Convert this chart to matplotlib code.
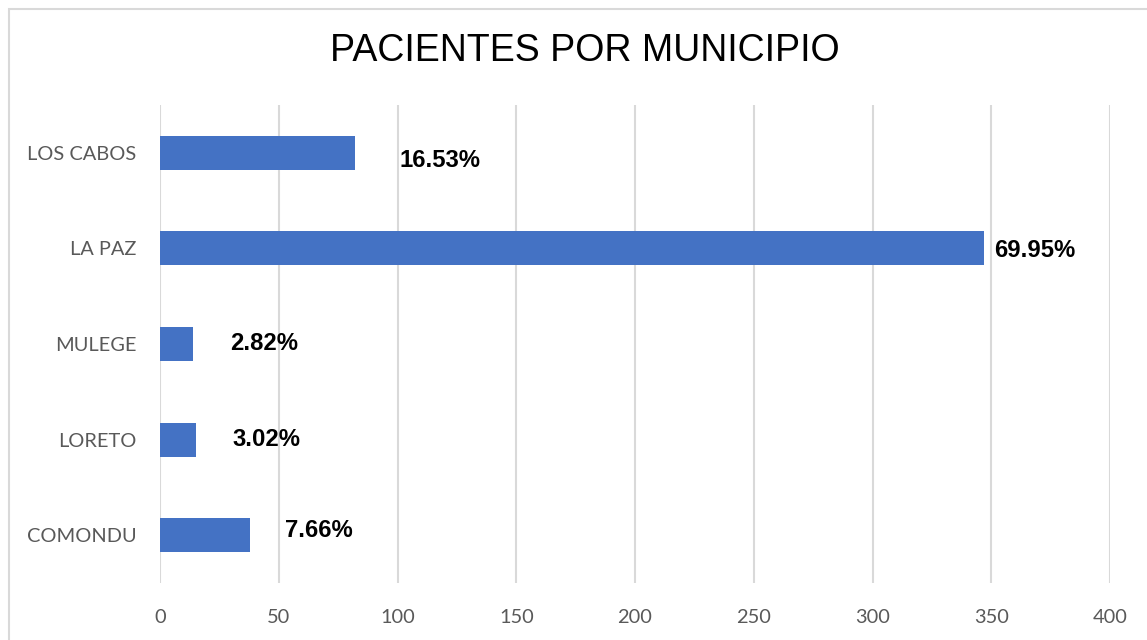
import matplotlib.pyplot as plt
import matplotlib.patches as mpatches

# datos
municipios = ['LOS CABOS', 'LA PAZ', 'MULEGE', 'LORETO', 'COMONDU']
pacientes = [82, 347, 14, 15, 38]
porcentajes = ['16.53%', '69.95%', '2.82%', '3.02%', '7.66%']
xticks = [0, 50, 100, 150, 200, 250, 300, 350, 400]

# desplazamiento de etiquetas (px), como quedaron en el original
dx = [45, 10, 37, 37, 35]
dy = [-8, -2, 0, 0, 5]

fig = plt.figure(figsize=(11.47, 6.4), dpi=100)
ax = fig.add_axes([160 / 1147, 1 - 583 / 640, 950 / 1147, 478 / 640])

# marco gris alrededor
fig.patches.append(mpatches.Rectangle((9 / 1147, -0.1), 1.2, (631 / 640) + 0.1,
                                      transform=fig.transFigure, fill=False,
                                      edgecolor='#d9d9d9', linewidth=1.5))

y = list(range(len(municipios)))
ax.barh(y, pacientes, height=0.355, color='#4472C4', zorder=3)

for i in range(len(municipios)):
    ax.annotate(porcentajes[i], (pacientes[i], y[i]), xytext=(dx[i] * 0.72, dy[i] * 0.72),
                textcoords='offset points', ha='left', va='center',
                fontsize=17.2, fontweight='bold', family='Liberation Sans', color='black')

ax.set_xlim(0, 400)
ax.set_ylim(len(municipios) - 0.5, -0.5)
ax.set_xticks(xticks)
ax.set_yticks(y)
ax.set_yticklabels(municipios)
ax.grid(axis='x', color='#d9d9d9', linewidth=1.5, zorder=0)
for s in ax.spines.values():
    s.set_visible(False)
ax.tick_params(axis='both', length=0, labelsize=14.4, labelcolor='#595959')
ax.tick_params(axis='x', pad=19)
ax.tick_params(axis='y', pad=17)
for lab in ax.get_xticklabels() + ax.get_yticklabels():
    lab.set_family('Lato')

fig.text(585 / 1147, 1 - 51 / 640, 'PACIENTES POR MUNICIPIO', ha='center', va='center',
         fontsize=27, family='Liberation Sans', color='black')

fig.savefig('out.png', dpi=100)
